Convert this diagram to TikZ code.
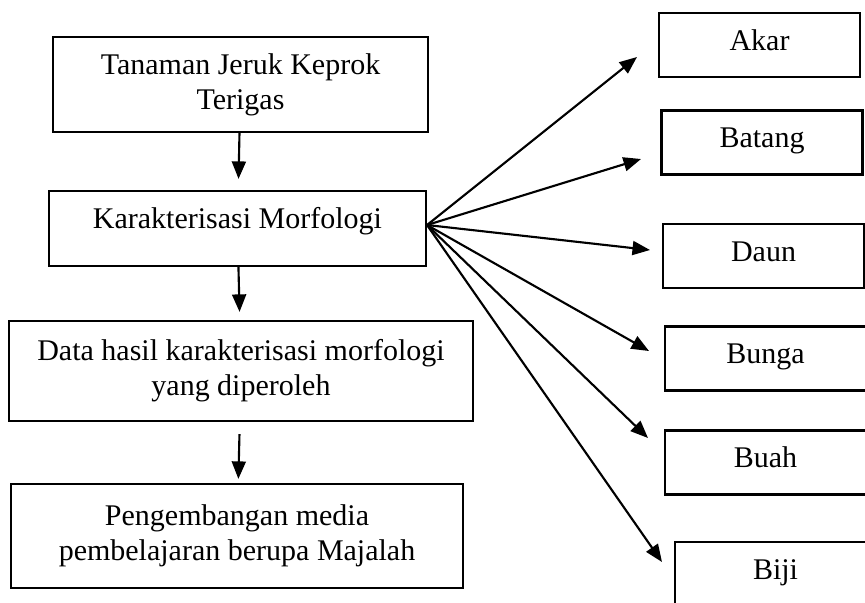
\documentclass[tikz,border=0pt]{standalone}
\usepackage{fontspec}
\setmainfont{Liberation Serif}
\usetikzlibrary{arrows.meta,positioning}

\begin{document}
\begin{tikzpicture}
	[x=0.4pt,y=-0.4pt,line width=0.85pt,>={Triangle[length=7pt,width=5.6pt]},
	every node/.style={shape=rectangle,draw,line width=0.9pt,
		font=\fontsize{12}{14}\selectfont,inner sep=2pt},
	bagian/.style={minimum width=80.4pt,minimum height=25.6pt,text height=8pt,text depth=4pt}]
	\clip (0,0) rectangle (865,602);
	\node[align=center,minimum width=150pt,minimum height=38pt] (tanaman) at (240.5,84.5)
		{Tanaman Jeruk Keprok\\Terigas};
	\node[minimum width=150.8pt,minimum height=30pt,text height=8pt,text depth=8pt] (karak)
		at (237.5,228.5) {Karakterisasi Morfologi};
	\node[align=center,minimum width=185.6pt,minimum height=40pt] (data) at (241,371)
		{Data hasil karakterisasi morfologi\\yang diperoleh};
	\node[align=center,minimum width=180.8pt,minimum height=41.6pt] (majalah) at (237,536)
		{Pengembangan media\\pembelajaran berupa Majalah};

	\node[bagian] (akar) at (759.5,45) {Akar};
	\node[bagian] (batang) at (762,142.5) {Batang};
	\node[bagian] (daun) at (763.5,256) {Daun};
	\node[bagian] (bunga) at (765.5,358.5) {Bunga};
	\node[bagian] (buah) at (765.5,462.5) {Buah};
	\node[bagian] (biji) at (775.5,574) {Biji};

	\coordinate (hub) at (427,225);
	\coordinate (tAkar) at (637,57);
	\coordinate (tBatang) at (641,159);
	\coordinate (tDaun) at (650,250);
	\coordinate (tBunga) at (649,351);
	\coordinate (tBuah) at (648,438);
	\coordinate (tBiji) at (662,562);

	\path[->] (tanaman) edge[shorten >=4.4pt] (karak)
		(karak) edge[shorten >=3.2pt] (data)
		(data) edge[shorten <=4.8pt,shorten >=1.6pt] (majalah);

	\path
	\foreach \startNode/\endNode in {hub/tAkar,hub/tBatang,hub/tDaun,hub/tBunga,hub/tBuah,hub/tBiji}{
		(\startNode) edge[->] (\endNode)
	};
\end{tikzpicture}
\end{document}
